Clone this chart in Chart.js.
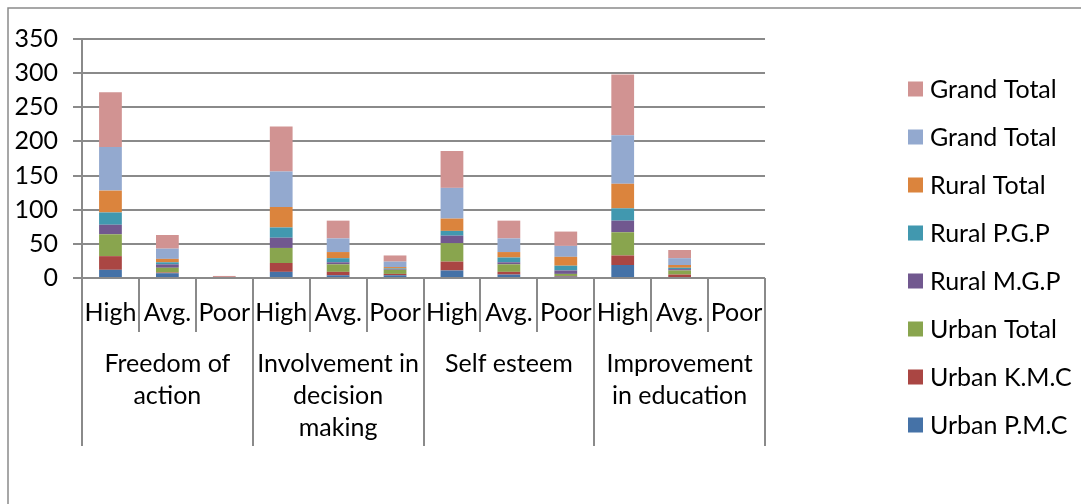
<!DOCTYPE html>
<html>
<head>
<meta charset="utf-8">
<script src="https://cdn.jsdelivr.net/npm/chart.js@4.4.1/dist/chart.umd.min.js"></script>
<style>
  html, body { margin: 0; padding: 0; background: #fff; }
  #wrap { width: 1081px; height: 504px; position: relative; }
</style>
</head>
<body>
<div id="wrap"><canvas id="c" width="1081" height="504"></canvas></div>
<script>
// Rating levels within each aspect
const levels = ['High', 'Avg.', 'Poor'];
// Aspects of empowerment (group labels, split into lines)
const aspects = [
  ['Freedom of', 'action'],
  ['Involvement in', 'decision', 'making'],
  ['Self esteem'],
  ['Improvement', 'in education']
];
const yTicks = [0, 50, 100, 150, 200, 250, 300, 350];

// Respondent counts, one value per aspect × level (High, Avg., Poor)
const urbanPMC   = [12, 7, 0,   9,  4, 4,   11,  5,  2,   19,  0, 0];
const urbanKMC   = [20, 1, 0,  13,  5, 2,   13,  4,  1,   14,  5, 0];
const urbanTotal = [32, 7, 0,  22, 11, 6,   27, 11,  3,   34,  6, 0];
const ruralMGP   = [14, 5, 0,  15,  3, 1,   11,  3,  5,   17,  2, 0];
const ruralPGP   = [18, 3, 0,  15,  6, 1,    7,  7,  7,   18,  2, 0];
const ruralTotal = [32, 5, 0,  30,  9, 2,   18,  8, 13,   36,  4, 0];
const grandTotalA = [64, 15, 0, 52, 20, 8,   45, 20, 16,   71, 10, 0];
const grandTotalB = [80, 20, 3, 66, 26, 9,   54, 26, 21,   89, 12, 0];

const seriesNames = ['Urban P.M.C', 'Urban K.M.C', 'Urban Total', 'Rural M.G.P',
                     'Rural P.G.P', 'Rural Total', 'Grand Total', 'Grand Total'];
const seriesValues = [urbanPMC, urbanKMC, urbanTotal, ruralMGP, ruralPGP, ruralTotal, grandTotalA, grandTotalB];
const seriesColors = ['#4572A7', '#AA4643', '#89A54E', '#71588F', '#4198AF', '#DB843D', '#93A9CF', '#D19392'];

const labels = [];
aspects.forEach(() => levels.forEach(l => labels.push(l)));

const FONT = 'Lato';
const FS = 25;
const GRID = '#8a8a8a';

// Multi-level category axis, outer frame and legend drawn on the canvas
const decorations = {
  id: 'decorations',
  afterDraw(chart) {
    const ctx = chart.ctx;
    const area = chart.chartArea;
    const x = chart.scales.x;
    const n = labels.length;
    const step = (area.right - area.left) / n;
    ctx.save();
    ctx.strokeStyle = GRID;
    ctx.lineWidth = 2;
    for (let i = 0; i <= n; i++) {
      const px = Math.round(area.left + i * step);
      const end = (i % levels.length === 0) ? area.bottom + 168 : area.bottom + 54;
      ctx.beginPath();
      ctx.moveTo(px, area.bottom);
      ctx.lineTo(px, end);
      ctx.stroke();
    }
    ctx.fillStyle = '#000';
    ctx.font = FS + 'px ' + FONT;
    ctx.textAlign = 'center';
    ctx.textBaseline = 'middle';
    aspects.forEach((lines, g) => {
      const cx = (x.getPixelForValue(g * 3) + x.getPixelForValue(g * 3 + 2)) / 2;
      lines.forEach((t, k) => ctx.fillText(t, cx, area.bottom + 86 + k * 32));
    });
    // outer frame
    ctx.strokeStyle = '#8a8a8a';
    ctx.lineWidth = 1.5;
    ctx.beginPath();
    ctx.moveTo(8, 504);
    ctx.lineTo(8, 8);
    ctx.lineTo(1081, 8);
    ctx.stroke();
    // legend, top entry is the last series
    ctx.textAlign = 'left';
    for (let i = 0; i < seriesNames.length; i++) {
      const idx = seriesNames.length - 1 - i;
      const cy = 89 + i * 48;
      ctx.fillStyle = seriesColors[idx];
      ctx.fillRect(908, cy - 7.5, 15, 15);
      ctx.fillStyle = '#000';
      ctx.fillText(seriesNames[idx], 930, cy + 1);
    }
    ctx.restore();
  }
};

new Chart(document.getElementById('c'), {
  type: 'bar',
  data: {
    labels: labels,
    datasets: seriesValues.map((v, i) => ({
      label: seriesNames[i],
      data: v,
      backgroundColor: seriesColors[i],
      borderWidth: 0,
      categoryPercentage: 1,
      barPercentage: 0.4
    }))
  },
  options: {
    responsive: false,
    animation: false,
    layout: { padding: { left: 8, right: 316, top: 39, bottom: 0 } },
    plugins: { legend: { display: false }, tooltip: { enabled: false } },
    scales: {
      x: {
        stacked: true,
        grid: { display: false, drawTicks: false },
        border: { display: false },
        ticks: { color: '#000', font: { family: FONT, size: FS }, padding: 20, maxRotation: 0, autoSkip: false },
        afterFit(s) { s.height = 226; }
      },
      y: {
        stacked: true,
        min: 0, max: 350,
        afterBuildTicks(s) { s.ticks = yTicks.map(v => ({ value: v })); },
        grid: { color: GRID, lineWidth: 2, tickLength: 9 },
        border: { color: GRID, width: 2 },
        ticks: { color: '#000', font: { family: FONT, size: FS }, padding: 15 },
        afterFit(s) { s.width = 74; }
      }
    }
  },
  plugins: [decorations]
});
</script>
</body>
</html>
